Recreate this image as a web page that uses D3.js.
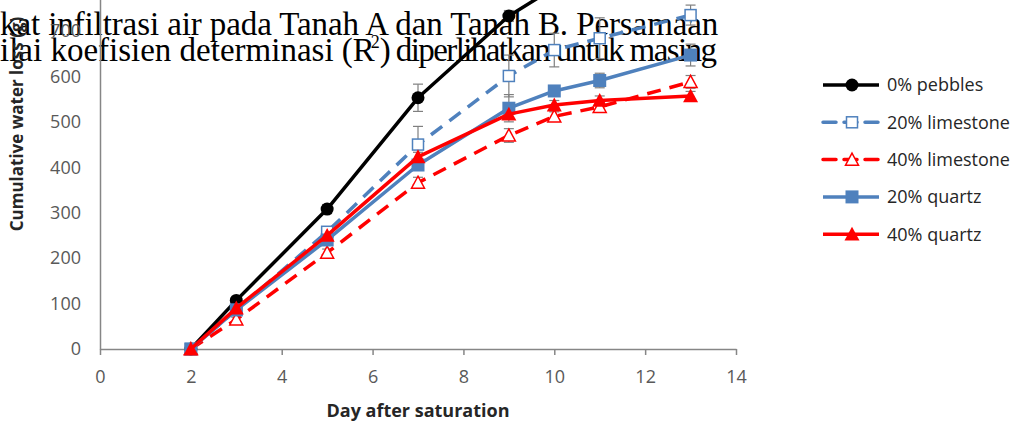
<html>
<head>
  <meta charset="utf-8">
  <title>Cumulative water loss</title>
  <style>
    body { margin: 0; background: #fff; }
    .tick text { font-family: "Open Sans", sans-serif; font-size: 18px; fill: #595959; }
  </style>
</head>
<body>
  <script src="https://d3js.org/d3.v7.min.js"></script>
  <script>
    // data (g of water lost vs. day after saturation)
    var days = [2, 3, 5, 7, 9, 10, 11, 13]
    var pebbles0 = [0, 107, 308, 553, 733, 795, 845, 905]
    var limestone20 = [0, 86, 258, 450, 601, 658, 684, 735]
    var limestone40 = [0, 65, 212, 366, 470, 512, 533, 588]
    var quartz20 = [0, 86, 240, 405, 530, 568, 591, 647]
    var quartz40 = [0, 90, 250, 423, 517, 537, 547, 557]
    // error bar half widths (mostly hidden under markers)
    var errPebbles0 = [0, 6, 10, 30, 12, 0, 0, 0]
    var errLimestone20 = [0, 6, 10, 40, 46, 37, 45, 22]
    var errLimestone40 = [0, 5, 8, 12, 15, 10, 10, 14]
    var errQuartz20 = [0, 5, 10, 10, 30, 10, 16, 24]
    var errQuartz40 = [0, 5, 8, 10, 10, 10, 10, 10]
    var xTicks = [0, 2, 4, 6, 8, 10, 12, 14]
    var yTicks = [0, 100, 200, 300, 400, 500, 600, 700]

    var series = [
      { name: "0% pebbles", values: pebbles0, err: errPebbles0, color: "#000000", dash: null, marker: "circle", open: false },
      { name: "20% limestone", values: limestone20, err: errLimestone20, color: "#4f81bd", dash: "14,9", marker: "square", open: true },
      { name: "40% limestone", values: limestone40, err: errLimestone40, color: "#ff0000", dash: "14,9", marker: "triangle", open: true },
      { name: "20% quartz", values: quartz20, err: errQuartz20, color: "#4f81bd", dash: null, marker: "square", open: false },
      { name: "40% quartz", values: quartz40, err: errQuartz40, color: "#ff0000", dash: null, marker: "triangle", open: false }
    ]

    var width = 1015, height = 425
    var svg = d3.select("body").append("svg")
      .attr("width", width)
      .attr("height", height)

    // the document text that sits over the clipped chart
    var para = svg.append("g")
      .attr("font-family", "'Liberation Serif', 'Times New Roman', serif")
      .attr("font-size", "33px")
      .attr("fill", "#000")
    para.append("text").attr("x", 0).attr("y", 35)
      .attr("letter-spacing", "-0.1px")
      .text("kat infiltrasi air pada Tanah A dan Tanah B. Persamaan")
    var l2 = para.append("text").attr("x", 0).attr("y", 61)
    l2.append("tspan").text("ilai koefisien determinasi (R")
    l2.append("tspan").attr("font-size", "18px").attr("dx", -4).attr("dy", -13).text("2")
    l2.append("tspan").attr("dy", 13).attr("letter-spacing", "-1.6px")
      .text(") diperlihatkan untuk masing")

    var x = d3.scaleLinear().domain([0, 14]).range([100, 736])
    var y = d3.scaleLinear().domain([0, 800]).range([349, 349 - 800 * 0.4543])

    // axes
    var xAxis = svg.append("g")
      .attr("transform", "translate(0,349)")
      .call(d3.axisBottom(x).tickValues(xTicks).tickSize(6).tickSizeOuter(0).tickPadding(15))
    xAxis.select(".domain").attr("stroke", "#868686").attr("stroke-width", 1.5)
    xAxis.selectAll(".tick line").attr("stroke", "#868686").attr("stroke-width", 1.5)
    xAxis.selectAll(".tick text").attr("dy", "0.71em")

    var yAxis = svg.append("g")
      .attr("transform", "translate(100,0)")
      .call(d3.axisLeft(y).tickValues(yTicks).tickSize(0).tickSizeOuter(0).tickPadding(19))
    yAxis.select(".domain").attr("stroke", "#868686").attr("stroke-width", 1.5)

    svg.append("text")
      .attr("transform", "translate(23,124) rotate(-90)")
      .attr("text-anchor", "middle")
      .attr("font-family", "'Open Sans', sans-serif")
      .attr("font-weight", "bold")
      .attr("font-size", "17px")
      .attr("fill", "#262626")
      .text("Cumulative water loss (g)")

    svg.append("text")
      .attr("x", 418).attr("y", 417)
      .attr("text-anchor", "middle")
      .attr("font-family", "'Open Sans', sans-serif")
      .attr("font-weight", "bold")
      .attr("font-size", "18px")
      .attr("fill", "#262626")
      .text("Day after saturation")

    // error bars first
    var eb = svg.append("g").attr("stroke", "#7f7f7f").attr("stroke-width", 1.2)
    series.forEach(function (s) {
      days.forEach(function (d, i) {
        if (!s.err[i]) return
        var cx = x(d), top = y(s.values[i] + s.err[i]), bot = y(s.values[i] - s.err[i])
        eb.append("line").attr("x1", cx).attr("x2", cx).attr("y1", top).attr("y2", bot)
        eb.append("line").attr("x1", cx - 5).attr("x2", cx + 5).attr("y1", top).attr("y2", top)
        eb.append("line").attr("x1", cx - 5).attr("x2", cx + 5).attr("y1", bot).attr("y2", bot)
      })
    })

    var line = d3.line().x(function (d) { return x(d[0]) }).y(function (d) { return y(d[1]) })

    function drawMarker(g, type, cx, cy, s) {
      var fill = s.open ? "#fff" : s.color
      var sw = s.open ? 1.5 : 0
      if (type == "circle") {
        g.append("circle").attr("cx", cx).attr("cy", cy).attr("r", 6.5).attr("fill", fill)
      } else if (type == "square") {
        var a = s.open ? 11 : 13
        g.append("rect").attr("x", cx - a / 2).attr("y", cy - a / 2).attr("width", a).attr("height", a)
          .attr("fill", fill).attr("stroke", s.color).attr("stroke-width", sw)
      } else {
        var h = s.open ? 6.5 : 7.5
        g.append("path")
          .attr("d", "M" + cx + "," + (cy - h) + "L" + (cx + h) + "," + (cy + h * 0.85) + "L" + (cx - h) + "," + (cy + h * 0.85) + "Z")
          .attr("fill", fill).attr("stroke", s.color).attr("stroke-width", sw).attr("stroke-linejoin", "miter")
      }
    }

    series.forEach(function (s) {
      var g = svg.append("g")
      var pts = days.map(function (d, i) { return [d, s.values[i]] })
      g.append("path")
        .attr("d", line(pts))
        .attr("fill", "none")
        .attr("stroke", s.color)
        .attr("stroke-width", 3.5)
        .attr("stroke-linejoin", "round")
        .attr("stroke-dasharray", s.dash)
      pts.forEach(function (p) { drawMarker(g, s.marker, x(p[0]), y(p[1]), s) })
    })

    // legend
    var legend = svg.append("g")
    series.forEach(function (s, i) {
      var ly = 85 + i * 37.3
      var g = legend.append("g")
      g.append("line").attr("x1", 823).attr("x2", 879).attr("y1", ly).attr("y2", ly)
        .attr("stroke", s.color).attr("stroke-width", 3.5)
        .attr("stroke-dasharray", s.dash ? "13,8" : null)
        .attr("stroke-linecap", s.dash ? "round" : "butt")
      drawMarker(g, s.marker, 852, ly, s)
      g.append("text").attr("x", 887).attr("y", ly).attr("dy", "0.35em")
        .attr("font-family", "'Open Sans', sans-serif")
        .attr("font-size", "18px")
        .attr("fill", "#262626")
        .text(s.name)
    })
  </script>
</body>
</html>
